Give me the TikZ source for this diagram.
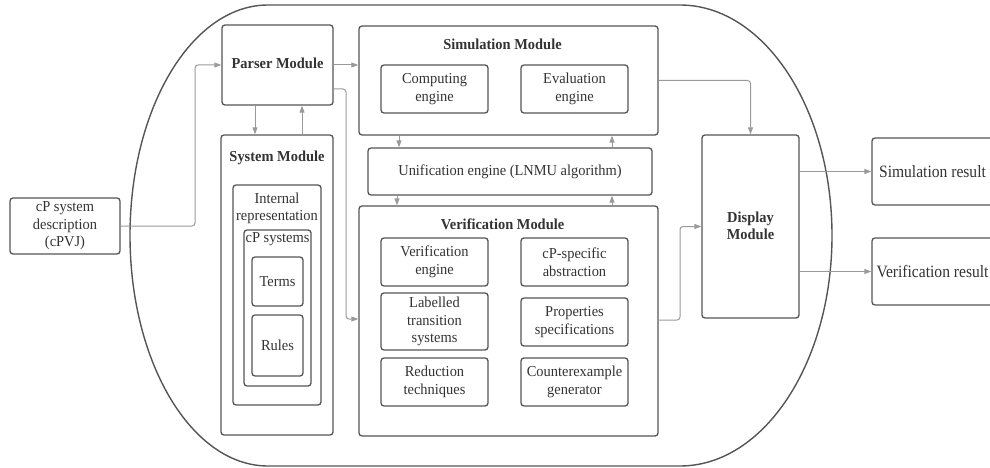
\documentclass[tikz,border=0pt]{standalone}
\usepackage{fontspec}
\setmainfont[FakeStretch=0.95]{Liberation Serif}
\newfontfamily\resultfont[FakeStretch=0.9]{Liberation Serif}
\usetikzlibrary{arrows.meta,calc}
\definecolor{edge}{HTML}{555555}
\definecolor{wire}{HTML}{9A9A9A}
\definecolor{ink}{HTML}{333333}
\tikzset{
  box/.style={draw=edge, line width=1.3pt, rounded corners=3pt, fill=white,
    text=ink, align=center, inner sep=0pt,
    font=\fontsize{15.2}{17.5}\selectfont},
  plain/.style={text=ink, align=center, inner sep=0pt,
    font=\fontsize{15.2}{17.5}\selectfont},
  title/.style={text=ink, inner sep=0pt, align=center,
    font=\bfseries\fontsize{15.2}{17.5}\selectfont},
  resbox/.style={box, font=\resultfont\fontsize{17.3}{20}\selectfont},
  arr/.style={draw=wire, line width=1pt, rounded corners=3pt,
    -{Triangle[length=7pt,width=5pt]}},
  outline/.style={draw=edge, line width=1.4pt},
}
\begin{document}
\begin{tikzpicture}[x=1pt,y=-1pt]
\useasboundingbox (0,0) rectangle (990,468);

% tool boundary
\draw[outline] (680,5) -- (268,5)
  .. controls (191.8,5) and (130,108.2) .. (130,235.5)
  .. controls (130,362.8) and (191.8,466) .. (268,466)
  -- (680,466)
  .. controls (763.9,466) and (832,362.8) .. (832,235.5)
  .. controls (832,108.2) and (763.9,5) .. (680,5) -- cycle;

% input
\node[box, minimum width=110pt, minimum height=56pt] (cpin) at (65,226)
  {cP system\\description\\(cPVJ)};

% parser and system modules
\node[box, minimum width=111pt, minimum height=80pt] (parser) at (277.5,65) {};
\node[title] (partitle) at (277.5,63) {Parser Module};
\node[box, minimum width=112pt, minimum height=300pt] (system) at (277,285) {};
\node[title] (systitle) at (277,158) {System Module};
\node[box, minimum width=88pt, minimum height=220pt] (internal) at (277,295) {};
\node[plain] (inttitle) at (277,208.5) {Internal\\representation};
\node[box, minimum width=67pt, minimum height=156pt] (cpsys) at (277.5,308) {};
\node[plain] (cptitle) at (277.5,239) {cP systems};
\node[box, minimum width=51pt, minimum height=49pt] (terms) at (277.5,281.5) {Terms};
\node[box, minimum width=51pt, minimum height=61pt] (rules) at (277.5,345.5) {Rules};

% simulation module
\node[box, minimum width=299pt, minimum height=109pt] (sim) at (508.5,80.5) {};
\node[title] (simtitle) at (502.5,44) {Simulation Module};
\node[box, minimum width=107pt, minimum height=48pt] (comp) at (434.5,89) {Computing\\engine};
\node[box, minimum width=107pt, minimum height=48pt] (eval) at (574.5,89) {Evaluation\\engine};

% unification engine
\node[box, minimum width=284pt, minimum height=47pt] (unif) at (510,171.5)
  {Unification engine (LNMU algorithm)};

% verification module
\node[box, minimum width=299pt, minimum height=230pt] (ver) at (508.5,321) {};
\node[title] (vertitle) at (502.5,224) {Verification Module};
\node[box, minimum width=107pt, minimum height=48pt] (vereng) at (434.5,262) {Verification\\engine};
\node[box, minimum width=107pt, minimum height=48pt] (cpabs) at (574.5,262) {cP-specific\\abstraction};
\node[box, minimum width=107pt, minimum height=57pt] (lts) at (434.5,321.5) {Labelled\\transition\\systems};
\node[box, minimum width=107pt, minimum height=48pt] (props) at (574.5,322) {Properties\\specifications};
\node[box, minimum width=107pt, minimum height=48pt] (red) at (434.5,382) {Reduction\\techniques};
\node[box, minimum width=107pt, minimum height=48pt] (cex) at (574.5,382) {Counterexample\\generator};

% display module and outputs
\node[box, minimum width=97pt, minimum height=183pt] (display) at (750.5,226.5) {};
\node[title] (distitle) at (750.5,226) {Display\\Module};
\node[resbox, minimum width=121pt, minimum height=67pt] (simres) at (932.5,171.5) {Simulation result};
\node[resbox, minimum width=121pt, minimum height=67pt] (verres) at (932.5,271.5) {Verification result};

% connectors
\draw[arr] (cpin.east) -- (195,226) |- (parser.west);
\draw[arr] (parser.east) -- (parser.east -| sim.west);
\draw[arr] (parser.east |- 0,89) -- (346,89) |- (ver.west |- 0,319);
\draw[arr] (parser.south -| 255,0) -- (system.north -| 255,0);
\draw[arr] (system.north -| 302,0) -- (parser.south -| 302,0);
\draw[arr] (sim.south -| 399,0) -- (unif.north -| 399,0);
\draw[arr] (unif.north -| 612,0) -- (sim.south -| 612,0);
\draw[arr] (unif.south -| 397,0) -- (ver.north -| 397,0);
\draw[arr] (ver.north -| 612,0) -- (unif.south -| 612,0);
\draw[arr] (sim.east) -| (display.north);
\draw[arr] (ver.east |- 0,320) -- (680,320) |- (display.west);
\draw[arr] (display.east |- simres.west) -- (simres.west);
\draw[arr] (display.east |- verres.west) -- (verres.west);
\end{tikzpicture}
\end{document}
